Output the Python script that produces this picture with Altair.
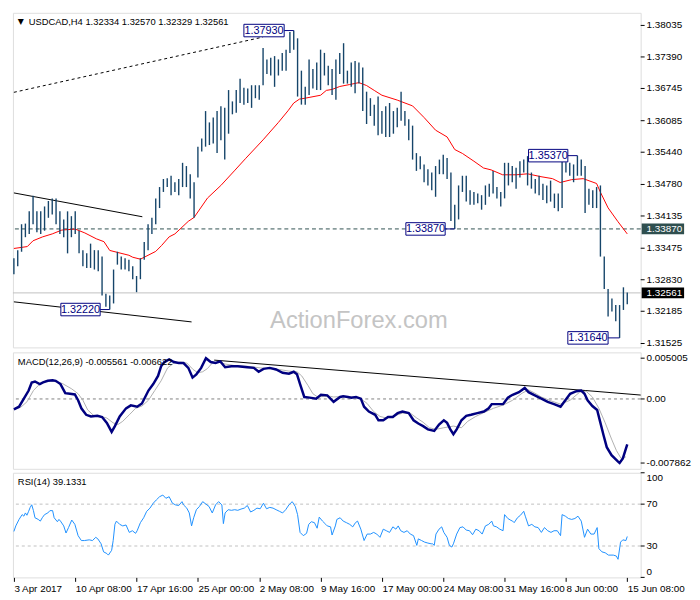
import json
import altair as alt
import pandas as pd

# ---------------- data ----------------
# H4 OHLC bars, sampled every 2nd bar (bar index 0 = 3 Apr 2017 00:00)
bar_high = [1.33271, 1.33436, 1.33966, 1.33979, 1.34230, 1.34548, 1.34230, 1.34230, 1.34330, 1.34442,
            1.34495, 1.34495, 1.34230, 1.34065, 1.34230, 1.34131, 1.34230, 1.33833, 1.33436, 1.33370,
            1.33569, 1.33436, 1.33436, 1.33304, 1.32543, 1.32510, 1.33039, 1.33403, 1.33304, 1.33271,
            1.33238, 1.33106, 1.32907, 1.33271, 1.33602, 1.33966, 1.34098, 1.34495, 1.34727, 1.34892,
            1.34905, 1.34958, 1.34826, 1.34892, 1.35223, 1.35157, 1.34991, 1.34826, 1.35554, 1.35719,
            1.36282, 1.36050, 1.36149, 1.36282, 1.36381, 1.36348, 1.36712, 1.36480, 1.36712, 1.36943,
            1.36758, 1.36745, 1.36811, 1.36811, 1.36811, 1.37572, 1.37340, 1.37374, 1.37407, 1.37340,
            1.37473, 1.37539, 1.37900, 1.37930, 1.37771, 1.37109, 1.36778, 1.37340, 1.37142, 1.37274,
            1.37539, 1.37473, 1.37208, 1.37142, 1.37340, 1.37473, 1.37671, 1.37109, 1.37274, 1.37307,
            1.37274, 1.37175, 1.36679, 1.36546, 1.36414, 1.36579, 1.36282, 1.36381, 1.36447, 1.36282,
            1.36348, 1.36679, 1.36282, 1.36116, 1.35984, 1.35422, 1.35355, 1.35190, 1.35091, 1.35024,
            1.35157, 1.35289, 1.35388, 1.35322, 1.35024, 1.34363, 1.34760, 1.34958, 1.34958, 1.34661,
            1.34627, 1.34594, 1.34561, 1.34760, 1.34793, 1.35058, 1.34727, 1.34627, 1.35223, 1.35223,
            1.35157, 1.35124, 1.35256, 1.35289, 1.35360, 1.35024, 1.34892, 1.34958, 1.34793, 1.34760,
            1.34859, 1.34594, 1.34594, 1.35289, 1.35236, 1.35223, 1.35190, 1.35370, 1.35289, 1.35157,
            1.34694, 1.34661, 1.34727, 1.34760, 1.33304, 1.32642, 1.32444, 1.32312, 1.32312, 1.32675,
            1.32570]
bar_low = [1.32940, 1.33106, 1.33403, 1.33701, 1.33767, 1.33966, 1.33800, 1.33767, 1.33833, 1.34098,
           1.34164, 1.33966, 1.33767, 1.33701, 1.33370, 1.33701, 1.33767, 1.33370, 1.33106, 1.33072,
           1.33072, 1.33039, 1.33006, 1.32510, 1.32278, 1.32220, 1.32345, 1.33139, 1.33039, 1.33039,
           1.33006, 1.32841, 1.32576, 1.32841, 1.33238, 1.33436, 1.33767, 1.33966, 1.34297, 1.34627,
           1.34727, 1.34561, 1.34627, 1.34561, 1.34727, 1.34727, 1.34495, 1.34098, 1.34925, 1.35455,
           1.35554, 1.35587, 1.35620, 1.35422, 1.35686, 1.35289, 1.35819, 1.36216, 1.36249, 1.36447,
           1.36414, 1.36447, 1.36348, 1.36546, 1.36513, 1.36811, 1.37043, 1.37010, 1.36778, 1.37010,
           1.37109, 1.37109, 1.37473, 1.37539, 1.36579, 1.36414, 1.36414, 1.36613, 1.36745, 1.36712,
           1.36712, 1.37010, 1.36811, 1.36613, 1.36513, 1.37043, 1.36844, 1.36844, 1.36778, 1.36646,
           1.36844, 1.36282, 1.36017, 1.36182, 1.35984, 1.35785, 1.35819, 1.35752, 1.35752, 1.35819,
           1.35951, 1.36083, 1.35984, 1.35686, 1.35289, 1.35058, 1.35091, 1.34826, 1.34760, 1.34661,
           1.34528, 1.34991, 1.34991, 1.34892, 1.34032, 1.33870, 1.34065, 1.34627, 1.34429, 1.34363,
           1.34363, 1.34396, 1.34264, 1.34363, 1.34528, 1.34594, 1.34495, 1.34330, 1.34495, 1.34760,
           1.34826, 1.34694, 1.34925, 1.35024, 1.34760, 1.34694, 1.34594, 1.34561, 1.34462, 1.34396,
           1.34429, 1.34297, 1.34230, 1.34297, 1.35024, 1.34958, 1.34826, 1.34958, 1.34958, 1.34197,
           1.34363, 1.34297, 1.34297, 1.33304, 1.32642, 1.32080, 1.32179, 1.31981, 1.31640, 1.32212,
           1.32329]

# moving average (red)
ma_x = [0, 7, 10, 15, 20, 25, 32, 37, 43, 47, 50, 54, 60, 62, 66, 68, 74, 77, 81, 84, 91, 94, 101, 108,
        115, 121, 130, 138, 143, 146, 149, 152, 160, 163, 166, 170, 175, 180, 184, 188, 192, 200, 208,
        214, 220, 226, 230, 234, 240, 245, 249, 255, 262, 268, 275, 281, 285, 291, 297, 304, 306, 310,
        315, 320]
ma_v = [1.33470, 1.33509, 1.33628, 1.33708, 1.33768, 1.33847, 1.33867, 1.33788, 1.33668, 1.33609,
        1.33430, 1.33390, 1.33331, 1.33291, 1.33251, 1.33291, 1.33410, 1.33529, 1.33708, 1.33768,
        1.34026, 1.34105, 1.34502, 1.34760, 1.35058, 1.35316, 1.35693, 1.36050, 1.36288, 1.36447,
        1.36527, 1.36546, 1.36606, 1.36705, 1.36725, 1.36785, 1.36824, 1.36864, 1.36805, 1.36705,
        1.36606, 1.36507, 1.36388, 1.36150, 1.35891, 1.35753, 1.35495, 1.35415, 1.35256, 1.35117,
        1.35078, 1.34978, 1.34978, 1.34998, 1.34939, 1.34899, 1.34820, 1.34879, 1.34899, 1.34800,
        1.34621, 1.34301, 1.34026, 1.33768]

# trend lines on price panel
tl_x1 = [0, 0, 0]
tl_y1 = [1.36666, 1.34607, 1.32378]
tl_x2 = [130, 67, 92.7]
tl_y2 = [1.37797, 1.34119, 1.31967]

# annotated levels
lab_text = ["1.37930", "1.32220", "1.33870", "1.35370", "1.31640"]
lab_price = [1.37930, 1.32220, 1.33870, 1.35370, 1.31640]
lab_left = [120, 24.5, 204.5, 268.5, 289]
lab_right = [141, 45, 225, 289, 310]
lab_bar = [146, 50, 230, 294, 316]

price_ticks = [1.38035, 1.37390, 1.36745, 1.36085, 1.35440, 1.34780, 1.34135, 1.33475,
               1.32830, 1.32185, 1.31525]
support_level = 1.33870
last_price = 1.32561

# MACD(12,26,9)
macd_x = [0, 2.7, 5.2, 7.7, 9.3, 11, 13.5, 15.2, 17.7, 20.2, 21.8, 24.3, 26.8, 29.3, 31.8, 33.5, 35.2,
          37.7, 40.2, 43.5, 46, 48.5, 51, 52.7, 55.2, 58.5, 61, 64.3, 66.8, 70.2, 72.7, 75.2, 76.8,
          78.5, 81, 83.5, 86, 88.5, 91, 93.2, 95.2, 97.7, 100.2, 102.7, 105.2, 107.7, 110.2, 113.5,
          116.8, 121.8, 125.2, 127.7, 130.2, 133.5, 136.8, 140.2, 143.5, 146, 147.7, 149.3, 151.5,
          154.3, 157.7, 160.2, 163.5, 166.8, 170.2, 171.8, 174.3, 176, 178.5, 181, 182.7, 185.2,
          188.5, 190.2, 192.7, 195.2, 197.7, 200.2, 202.7, 206, 208.5, 211, 213.5, 216, 219.3, 221.8,
          224.3, 226, 227.7, 229.3, 231, 233.5, 236, 238.5, 241.8, 245.2, 247.7, 249.3, 252.7, 255.2,
          257.7, 260.2, 263.5, 266.5, 268.5, 271.8, 275.2, 278.5, 281.8, 285.2, 287.7, 290.2, 293.5,
          296, 297.7, 299.3, 301.8, 304.3, 306, 307.7, 309.3, 311.8, 315.2, 316, 317.7, 320]
macd_v = [-0.001268, -0.000950, 0.000042, 0.001035, 0.002027, 0.002147, 0.001829, 0.002027, 0.002226,
          0.002305, 0.002226, 0.001829, 0.000717, 0.000638, 0.000559, -0.000156, -0.001149, -0.001943,
          -0.002141, -0.002062, -0.002220, -0.002935, -0.004047, -0.003332, -0.002141, -0.001149,
          -0.000791, -0.000950, -0.000553, 0.001035, 0.001829, 0.002821, 0.004012, 0.004529, 0.004850,
          0.004529, 0.004409, 0.004409, 0.003814, 0.002623, 0.003020, 0.003814, 0.005005, 0.004529,
          0.004409, 0.004608, 0.003893, 0.004012, 0.004012, 0.003893, 0.003814, 0.003338, 0.003695,
          0.003814, 0.003615, 0.003218, 0.003099, 0.003338, 0.003020, 0.001829, 0.000241, 0.000162,
          0.000042, 0.000519, 0.000439, -0.000355, 0.000241, 0.000320, 0.000241, 0.000162, 0.000241,
          0.000042, -0.000950, -0.001546, -0.001943, -0.002617, -0.002617, -0.002220, -0.002220,
          -0.001744, -0.001546, -0.001744, -0.002617, -0.003014, -0.003332, -0.003729, -0.003928,
          -0.003134, -0.002617, -0.002935, -0.003729, -0.004324, -0.003729, -0.002617, -0.002062,
          -0.001943, -0.001744, -0.001546, -0.001149, -0.000632, -0.000632, -0.000632, 0.000162,
          0.000519, 0.000836, 0.001353, 0.000836, 0.000439, 0.000042, -0.000355, -0.000632, -0.000950,
          -0.000156, 0.000638, 0.000956, 0.001035, 0.000638, -0.000156, -0.000871, -0.001347,
          -0.002935, -0.004523, -0.005913, -0.006905, -0.007699, -0.007862, -0.007302, -0.005561]
sig_x = [0, 3.5, 6.8, 10.2, 13.5, 16.8, 21, 25.2, 30.2, 33.5, 36, 38.5, 41.8, 45.2, 48.5, 51.8, 54.3,
         56.8, 60.2, 63.5, 66.8, 70.2, 73.5, 76.8, 80.2, 83.5, 86.8, 90.2, 93.5, 96, 98.5, 101, 103.5,
         106.8, 110.2, 115.2, 121.8, 128.5, 133.5, 138.5, 143.5, 147.7, 150.2, 153.5, 156, 158.5,
         161.8, 165.2, 166.8, 171.8, 176.8, 180.2, 184.3, 187.7, 191, 194.3, 198.5, 202.7, 206.8,
         210.2, 213.5, 216.8, 220.2, 224.3, 229.3, 233.5, 236.8, 241, 245.2, 250.2, 255.2, 260.2,
         265.2, 268.5, 271.8, 275.2, 280.2, 285.2, 290.2, 295.2, 298.5, 301.8, 305.2, 308.5, 311.8,
         314.3, 316.8, 319.3]
sig_v = [-0.001268, -0.001029, -0.000355, 0.001035, 0.001829, 0.002226, 0.002147, 0.001908, 0.001233,
         0.000638, -0.000156, -0.001347, -0.002062, -0.002141, -0.002340, -0.002935, -0.003134,
         -0.002737, -0.001943, -0.001149, -0.000871, -0.000156, 0.001035, 0.002226, 0.003814,
         0.004409, 0.004529, 0.004409, 0.003615, 0.003218, 0.003338, 0.003735, 0.004409, 0.004529,
         0.004290, 0.004092, 0.004012, 0.003814, 0.003695, 0.003615, 0.003417, 0.003338, 0.002821,
         0.001630, 0.000638, 0.000241, 0.000320, 0.000320, 0.000241, 0.000320, 0.000241, 0.000162,
         -0.000553, -0.001546, -0.002141, -0.002340, -0.002062, -0.001744, -0.001744, -0.002340,
         -0.002856, -0.003531, -0.003729, -0.003531, -0.003332, -0.003531, -0.002737, -0.002141,
         -0.001665, -0.001149, -0.000752, -0.000156, 0.000717, 0.001114, 0.000717, 0.000241,
         -0.000235, -0.000632, -0.000156, 0.000836, 0.000956, 0.000241, -0.001149, -0.002935,
         -0.004920, -0.006310, -0.007302, -0.007100]
macd_tl_x1, macd_tl_y1, macd_tl_x2, macd_tl_y2 = 104.5, 0.004767, 327, 0.000479
macd_ticks = [0.005005, 0.0, -0.007862]
macd_tick_labels = ["0.005005", "0.00", "-0.007862"]

# RSI(14)
rsi_x = [0, 1, 2.7, 4.3, 5.2, 6, 6.8, 7.7, 8.5, 9.3, 10.2, 11, 12.7, 13.8, 14.8, 16, 17.7, 18.8, 20.2,
         21, 22.7, 23.5, 24.3, 26, 27.2, 28.5, 30.2, 31.8, 33.5, 35.2, 36.8, 39.3, 41, 42.7, 43.8,
         45.5, 46.8, 48.5, 49.3, 51, 51.8, 52.7, 53.5, 55.2, 56.8, 58.5, 60.2, 61.8, 63.5, 64.3, 66,
         67.7, 69.3, 71, 72.7, 74.3, 76, 77.7, 79.3, 81, 82.7, 84.3, 86, 87.7, 88.5, 90.2, 91.5, 92.7,
         93.8, 95.2, 96.8, 98.5, 100.2, 101.8, 103.5, 105.2, 106.8, 108.5, 109.3, 110.2, 111.8, 113.5,
         115.2, 116.8, 118.5, 120.2, 121.8, 123.5, 125.2, 126.8, 128.5, 130.2, 131.8, 133.5, 135.2,
         136.8, 138.5, 140.2, 141.8, 143.5, 145.2, 146.8, 148, 149.3, 151, 152.7, 153.8, 155.2, 156.8,
         158.2, 159.3, 161, 162.7,
         163.5, 165.2, 166, 167.7, 168.5, 170.2, 171.8, 173.5, 175.2, 176.8, 178.2, 179.3, 181, 182.7,
         184.3, 186, 187.7, 189.3, 191, 192.7, 194.3, 196, 197.7, 199.3, 200.5, 201.8, 203.5, 205.2,
         206.8, 208.5, 210.2, 211, 212.7, 214.3, 216, 217.7, 218.5, 219.3, 220.2, 221.8, 223.2, 224.3,
         226, 227.2, 228.5, 229.3, 231, 232.7, 234.3, 236, 237.7, 239.3, 241, 242.7, 244.3, 246,
         247.7, 249.3, 250.2, 251.8, 253.5, 255.2, 256, 257.7, 259.3, 260.2, 261, 262.7, 264.3, 266,
         266.8, 268.5, 270.2, 271.8, 273.5, 275.2, 276.8, 278.5, 280.2, 281.8, 283.5, 285.2, 286,
         287.7, 289.3, 291, 292.7, 294.3, 296, 297.7, 299.3, 301, 302.7, 304.3, 305.2, 306.8, 308.5,
         310.2, 312.7, 314.3, 315.2, 316.5, 317.7, 319.3, 320]
rsi_v = [43.9, 49.2, 55.4, 60.0, 58.5, 61.6, 59.4, 63.2, 66.9, 69.4, 63.8, 57.0, 55.4, 53.8, 57.0, 60.0,
         61.6, 63.8, 63.8, 57.0, 53.2, 55.4, 53.8, 49.2, 42.4, 47.6, 54.8, 50.7, 39.9, 35.2, 35.2, 35.9,
         35.2, 38.3, 36.8, 32.1, 24.4, 22.8, 21.3, 25.9, 35.2, 50.7, 53.8, 50.7, 49.2, 50.1, 43.0, 44.6,
         42.1, 44.6, 52.3, 57.0, 63.2, 66.2, 70.9, 74.0, 77.1, 78.7, 75.6, 77.1, 70.9, 69.3, 68.7, 72.4,
         69.3, 66.2, 61.6, 49.2, 57.0, 64.7, 67.8, 72.4, 70.0, 67.8, 61.6, 69.3, 72.4, 69.3, 51.4, 61.6,
         64.7, 64.1, 64.7, 64.1, 65.3, 66.2, 68.7, 62.5, 64.1, 66.2, 65.6, 70.9, 65.6, 66.9, 66.2, 64.7,
         63.2, 61.6, 64.7, 69.3, 72.4, 67.8, 60.0, 43.0, 39.9, 42.1, 50.7, 53.2, 52.3, 47.0, 57.6, 53.8,
         50.7,
         49.2, 48.3, 40.5, 49.2, 55.4, 57.0, 53.8, 52.3, 50.7, 48.3, 52.3, 53.8, 46.1, 35.2, 41.4, 41.4,
         43.0, 41.4, 38.3, 46.1, 44.6, 43.0, 48.3, 46.1, 49.2, 44.6, 43.0, 44.6, 41.4, 39.9, 30.6, 36.8,
         35.2, 33.7, 32.8, 32.1, 32.1, 30.6, 41.4, 46.1, 48.3, 43.0, 38.3, 30.6, 29.0, 32.1, 41.4, 47.6,
         48.3, 45.2, 44.6, 40.8, 46.1, 44.6, 41.4, 49.2, 50.7, 53.8, 49.2, 48.3, 46.1, 44.6, 60.0, 56.3,
         54.5, 53.8, 52.3, 57.0, 59.4, 63.2, 58.5, 49.2, 50.7, 48.3, 47.6, 43.0, 47.6, 44.6, 43.0, 44.6,
         44.6, 39.9, 60.0, 58.5, 56.3, 55.4, 56.3, 58.5, 53.8, 38.3, 46.1, 41.4, 41.4, 47.6, 27.5, 24.4,
         23.5, 21.3, 21.3, 20.4, 17.3, 33.7, 35.9, 35.2, 39.1]
rsi_ticks = [30, 70]
rsi_top, rsi_bottom = 100, 0
rsi_levels = [30, 70]

time_ticks = [0, 32, 64, 96, 128, 160, 192, 224, 256, 288, 320]
time_labels = ["3 Apr 2017", "10 Apr 08:00", "17 Apr 16:00", "25 Apr 00:00", "2 May 08:00",
               "9 May 16:00", "17 May 00:00", "24 May 08:00", "31 May 16:00", "8 Jun 00:00",
               "15 Jun 08:00"]

title_main = "USDCAD,H4  1.32334 1.32570 1.32329 1.32561"
title_macd = "MACD(12,26,9) -0.005561 -0.006622"
title_rsi = "RSI(14) 39.1331"
watermark = "ActionForex.com"

# ---------------- layout / style ----------------
FONT = "Liberation Sans"
W = 636
H_MAIN, H_MACD, H_RSI = 339, 118, 106
BAR_COLOR = "#16456a"
NAVY = "#000080"

xsc = alt.Scale(domain=[-0.5, 327], nice=False, zero=False)
psc = alt.Scale(domain=[1.31445, 1.38293], nice=False, zero=False)
msc = alt.Scale(domain=[-0.008572, 0.005720], nice=False, zero=False)
rsc = alt.Scale(domain=[0, 100], nice=False, zero=False)


def X(field, axis=None):
    return alt.X(field, type="quantitative", scale=xsc, axis=axis)


def YP(field):
    return alt.Y(field, type="quantitative", scale=psc, axis=None)


def YM(field):
    return alt.Y(field, type="quantitative", scale=msc, axis=None)


def YR(field):
    return alt.Y(field, type="quantitative", scale=rsc, axis=None)


def right_axis(values, labels, yfn, baseline="middle", ticks=True):
    df = pd.DataFrame({"v": values, "lab": labels})
    layers = []
    if ticks:
        layers.append(alt.Chart(df).mark_rule(color="black", strokeWidth=1).encode(
            x=alt.value(W), x2=alt.value(W + 4), y=yfn("v")))
    layers.append(alt.Chart(df).mark_text(align="left", baseline=baseline, font=FONT, fontSize=10,
                                          color="black").encode(
        x=alt.value(W + 6), y=yfn("v"), text="lab:N"))
    return layers


# ---------------- price panel ----------------
bars_df = pd.DataFrame({"i": [2 * k for k in range(len(bar_high))], "high": bar_high, "low": bar_low})
bars = alt.Chart(bars_df).mark_rule(color=BAR_COLOR, strokeWidth=1.4).encode(
    x=X("i"), y=YP("low"), y2="high:Q")

ma = alt.Chart(pd.DataFrame({"i": ma_x, "v": ma_v})).mark_line(color="#ff0000", strokeWidth=1).encode(
    x=X("i"), y=YP("v"))

tl_df = pd.DataFrame({"x1": tl_x1, "y1": tl_y1, "x2": tl_x2, "y2": tl_y2})
dotted_tl = alt.Chart(tl_df.iloc[[0]]).mark_rule(color="black", strokeWidth=1, strokeDash=[3, 3]).encode(
    x=X("x1"), x2="x2:Q", y=YP("y1"), y2="y2:Q")
solid_tl = alt.Chart(tl_df.iloc[1:]).mark_rule(color="black", strokeWidth=1).encode(
    x=X("x1"), x2="x2:Q", y=YP("y1"), y2="y2:Q")

support = alt.Chart(pd.DataFrame({"p": [support_level]})).mark_rule(
    color="#2f4f4f", strokeWidth=1, strokeDash=[4, 3]).encode(y=YP("p"))
lastline = alt.Chart(pd.DataFrame({"p": [last_price]})).mark_rule(
    color="#c0c0c0", strokeWidth=1).encode(y=YP("p"))

lab_df = pd.DataFrame({"text": lab_text, "p": lab_price, "l": lab_left, "r": lab_right, "b": lab_bar})
lab_base = alt.Chart(lab_df).transform_calculate(
    top="datum.p + 0.00128", bot="datum.p - 0.00128", mid="(datum.l + datum.r) / 2")
lab_conn = lab_base.mark_rule(color=NAVY, strokeWidth=1).encode(x=X("r"), x2="b:Q", y=YP("p"))
lab_box = lab_base.mark_rect(fill="white", stroke=NAVY, strokeWidth=1).encode(
    x=X("l"), x2="r:Q", y=YP("bot"), y2="top:Q")
lab_txt = lab_base.mark_text(font=FONT, fontSize=11, color=NAVY, baseline="middle").encode(
    x=X("mid"), y=YP("p"), text="text:N")

price_axis = right_axis(price_ticks, [f"{p:.5f}" for p in price_ticks], YP)

tag_df = pd.DataFrame({"text": ["1.33870", "1.32561"], "p": [support_level, last_price],
                       "bg": ["#2f4f4f", "#000000"]})
tag_base = alt.Chart(tag_df).transform_calculate(top="datum.p + 0.00110", bot="datum.p - 0.00110")
tag_rect = tag_base.mark_rect().encode(
    x=alt.value(W + 1), x2=alt.value(W + 44), y=YP("bot"), y2="top:Q",
    color=alt.Color("bg:N", scale=None))
tag_txt = tag_base.mark_text(align="left", baseline="middle", font=FONT, fontSize=10,
                             color="white").encode(x=alt.value(W + 6), y=YP("p"), text="text:N")

wm = alt.Chart(pd.DataFrame({"i": [180], "p": [1.3198], "t": [watermark]})).mark_text(
    font=FONT, fontSize=24, color="#c4c4c4", baseline="middle").encode(x=X("i"), y=YP("p"), text="t:N")

tri = alt.Chart(pd.DataFrame({"t": ["\u25bc"]})).mark_text(
    font="DejaVu Sans", fontSize=8, color="black", baseline="middle").encode(
    x=alt.value(8), y=alt.value(9), text="t:N")
ttl = alt.Chart(pd.DataFrame({"t": [title_main]})).mark_text(
    font=FONT, fontSize=9.5, color="black", align="left", baseline="middle").encode(
    x=alt.value(16), y=alt.value(9), text="t:N")

main = alt.layer(wm, dotted_tl, solid_tl, support, lastline, ma, bars, lab_conn, lab_box, lab_txt,
                 *price_axis, tag_rect, tag_txt, tri, ttl).properties(width=W, height=H_MAIN)

# ---------------- MACD panel ----------------
zero = alt.Chart(pd.DataFrame({"v": [0.0]})).mark_rule(
    color="#808080", strokeWidth=1, strokeDash=[3, 3]).encode(y=YM("v"))
macd_tl = alt.Chart(pd.DataFrame({"x1": [macd_tl_x1], "y1": [macd_tl_y1], "x2": [macd_tl_x2],
                                  "y2": [macd_tl_y2]})).mark_rule(color="black", strokeWidth=1).encode(
    x=X("x1"), x2="x2:Q", y=YM("y1"), y2="y2:Q")
sig = alt.Chart(pd.DataFrame({"i": sig_x, "v": sig_v})).mark_line(color="#b0b0b0", strokeWidth=1).encode(
    x=X("i"), y=YM("v"))
macd = alt.Chart(pd.DataFrame({"i": macd_x, "v": macd_v})).mark_line(color=NAVY, strokeWidth=2.5).encode(
    x=X("i"), y=YM("v"))
macd_ttl = alt.Chart(pd.DataFrame({"t": [title_macd]})).mark_text(
    font=FONT, fontSize=9.5, color="black", align="left", baseline="middle").encode(
    x=alt.value(5), y=alt.value(10), text="t:N")
macd_axis = right_axis(macd_ticks, macd_tick_labels, YM)

macd_panel = alt.layer(zero, macd_tl, sig, macd, macd_ttl, *macd_axis).properties(width=W, height=H_MACD)

# ---------------- RSI panel ----------------
time_expr = f"{json.dumps(time_labels)}[round(datum.value / 32)]"
x_axis = alt.Axis(values=time_ticks, labelExpr=time_expr, labelAlign="left", labelFont=FONT,
                  labelFontSize=10, labelColor="black", tickSize=4, tickColor="black", domain=False,
                  grid=False, title=None, labelPadding=2, labelOverlap=False, labelFlush=False)

levels = alt.Chart(pd.DataFrame({"v": rsi_levels})).mark_rule(
    color="#c0c0c0", strokeWidth=1, strokeDash=[3, 3]).encode(y=YR("v"))
rsi = alt.Chart(pd.DataFrame({"i": rsi_x, "v": rsi_v})).mark_line(color="#1e90ff", strokeWidth=1).encode(
    x=X("i", x_axis), y=YR("v"))
rsi_ttl = alt.Chart(pd.DataFrame({"t": [title_rsi]})).mark_text(
    font=FONT, fontSize=9.5, color="black", align="left", baseline="middle").encode(
    x=alt.value(5), y=alt.value(9), text="t:N")
rsi_axis = (right_axis(rsi_ticks, [str(v) for v in rsi_ticks], YR)
            + right_axis([rsi_top], [str(rsi_top)], YR, baseline="top")
            + right_axis([rsi_bottom], [str(rsi_bottom)], YR, baseline="bottom"))

rsi_panel = alt.layer(levels, rsi, rsi_ttl, *rsi_axis).properties(width=W, height=H_RSI)

chart = alt.vconcat(main, macd_panel, rsi_panel, spacing=2).properties(
    padding={"left": 0, "top": 0, "right": 0, "bottom": 0}
).configure_view(stroke="black", strokeWidth=1).configure(background="white")

chart.save("out.html", embed_options={"renderer": "svg", "actions": False})
